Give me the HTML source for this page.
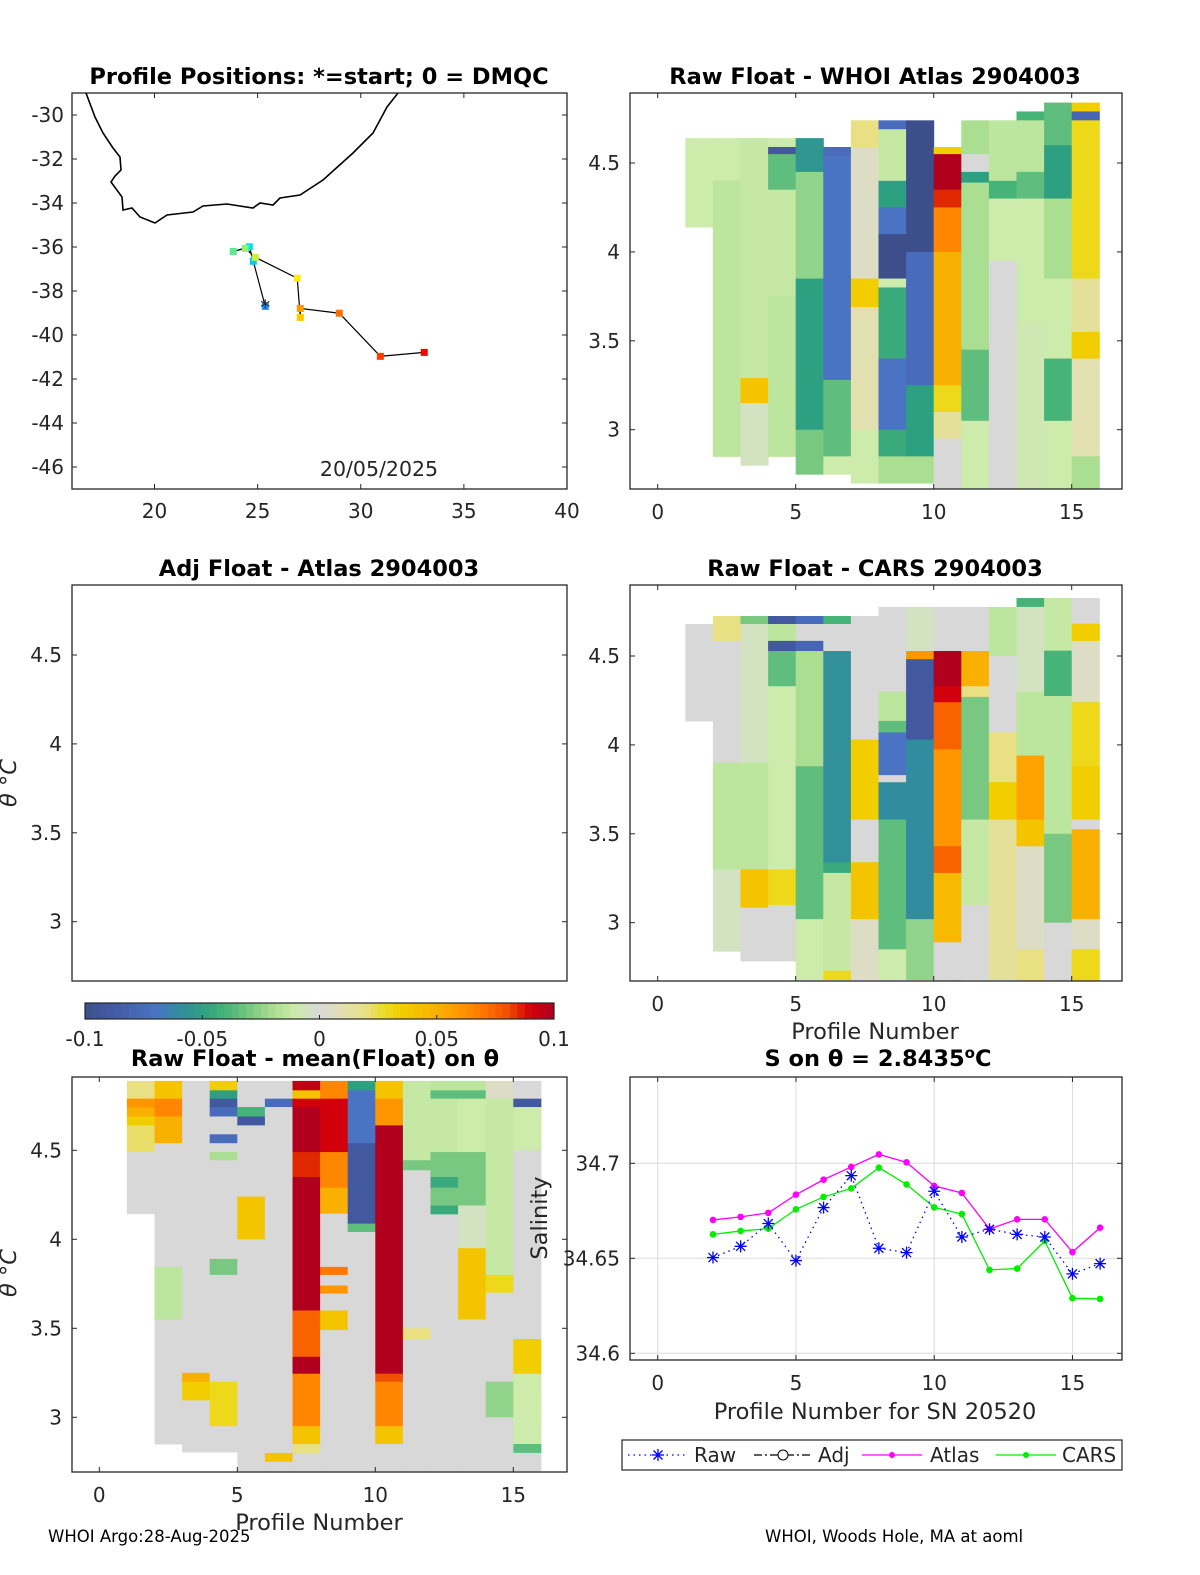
<!DOCTYPE html>
<html><head><meta charset="utf-8">
<style>
html,body{margin:0;padding:0;background:#fff;}
svg{display:block;font-family:"DejaVu Sans","Liberation Sans",sans-serif;}
.tk{font-size:20px;fill:#262626;}
.tt{font-size:22.5px;font-weight:bold;fill:#000;}
.lb{font-size:22.5px;fill:#262626;}
.dl{font-size:20.5px;fill:#262626;}
.ft{font-size:16.5px;fill:#000;}
</style></head>
<body>
<svg id="fig" width="1200" height="1575" viewBox="0 0 1200 1575" xmlns="http://www.w3.org/2000/svg">
<rect width="1200" height="1575" fill="#fff"/>
</svg>
<script>
// ---------- data ----------
const mapLon = [25.37, 24.79, 24.60, 23.82, 24.40, 24.89, 26.92, 27.07, 27.07, 28.96, 30.95, 33.08];
const mapLat = [-38.70, -36.65, -35.99, -36.20, -36.06, -36.47, -37.42, -39.20, -38.79, -39.01, -40.97, -40.79];
const mapColors = ["#1e90ff","#00c8ff","#00e0f0","#60e890","#90f070","#c8f040","#f8f000","#ffc800","#ff9800","#ff7000","#ff3c00","#ff0000"];
const coastX = [86,95,103,113,120,121,115,111,122,123,132,140,155,167,193,203,227,253,260,273,280,300,323,353,373,387,398];
const coastY = [93,117,133,148,157,170,176,182,197,210,208,217,223,215,212,206,204,208,203,205,198,195,180,153,133,107,93];

const profiles = [2,3,4,5,6,7,8,9,10,11,12,13,14,15,16];
const salRaw = [34.6504,34.6563,34.6683,34.6488,34.6767,34.6935,34.6553,34.6530,34.6853,34.6612,34.6653,34.6626,34.6612,34.6418,34.6472];
const salAtlas = [34.6702,34.6718,34.6739,34.6835,34.6914,34.6981,34.7047,34.7005,34.6881,34.6844,34.6654,34.6705,34.6705,34.6533,34.6661];
const salCars = [34.6626,34.6644,34.6656,34.6758,34.6823,34.6868,34.6977,34.6889,34.6768,34.6733,34.6439,34.6446,34.6591,34.6290,34.6286];

const whoiCols = [
 [[4.64,4.14,-0.01]],
 [[4.64,4.40,-0.01],[4.40,2.85,-0.015]],
 [[4.64,3.29,-0.012],[3.29,3.15,0.04],[3.15,2.80,-0.005]],
 [[4.64,4.59,-0.01],[4.59,4.55,-0.09],[4.55,4.35,-0.035],[4.35,3.75,-0.012],[3.75,2.85,-0.015]],
 [[4.64,4.45,-0.055],[4.45,3.85,-0.025],[3.85,3.0,-0.05],[3.0,2.75,-0.03]],
 [[4.59,4.54,-0.075],[4.54,3.28,-0.07],[3.28,2.85,-0.035],[2.85,2.75,-0.01]],
 [[4.74,4.59,0.02],[4.59,3.85,0.005],[3.85,3.69,0.035],[3.69,3.0,0.01],[3.0,2.70,-0.01]],
 [[4.74,4.69,-0.075],[4.69,4.40,-0.012],[4.40,4.25,-0.05],[4.25,4.10,-0.07],[4.10,3.85,-0.1],[3.85,3.80,-0.01],[3.80,3.40,-0.045],[3.40,3.0,-0.07],[3.0,2.85,-0.045],[2.85,2.70,-0.02]],
 [[4.74,4.0,-0.1],[4.0,3.25,-0.075],[3.25,2.85,-0.05],[2.85,2.70,-0.02]],
 [[4.59,4.55,0.035],[4.55,4.35,0.1],[4.35,4.25,0.085],[4.25,4.0,0.065],[4.0,3.25,0.05],[3.25,3.1,0.03],[3.1,2.95,0.015],[2.95,2.66,0.0]],
 [[4.74,4.55,-0.02],[4.55,4.45,0.0],[4.45,4.39,-0.05],[4.39,3.45,-0.02],[3.45,3.05,-0.035],[3.05,2.66,-0.01]],
 [[4.74,4.40,-0.015],[4.40,4.30,-0.04],[4.30,3.95,-0.01],[3.95,2.66,0.0]],
 [[4.79,4.74,-0.04],[4.74,4.45,-0.015],[4.45,4.30,-0.035],[4.30,3.60,-0.01],[3.60,2.66,-0.008]],
 [[4.84,4.60,-0.035],[4.60,4.30,-0.05],[4.30,3.85,-0.02],[3.85,3.40,-0.01],[3.40,3.05,-0.04],[3.05,2.66,-0.01]],
 [[4.84,4.79,0.035],[4.79,4.74,-0.08],[4.74,3.85,0.03],[3.85,3.55,0.015],[3.55,3.40,0.035],[3.40,2.85,0.01],[2.85,2.66,-0.02]]
];
const carsCols = [
 [[4.68,4.135,0.0]],
 [[4.725,4.585,0.02],[4.585,3.9,0.0],[3.9,3.3,-0.015],[3.3,2.84,-0.005]],
 [[4.725,4.68,-0.03],[4.68,3.9,-0.005],[3.9,3.3,-0.015],[3.3,3.085,0.04],[3.085,2.785,0.0]],
 [[4.725,4.68,-0.09],[4.68,4.585,-0.015],[4.585,4.528,-0.09],[4.528,4.33,-0.035],[4.33,3.3,-0.01],[3.3,3.1,0.03],[3.1,2.785,0.0]],
 [[4.725,4.68,-0.075],[4.68,4.585,0.0],[4.585,4.528,-0.08],[4.528,3.88,-0.02],[3.88,3.02,-0.035],[3.02,2.68,-0.01]],
 [[4.725,4.68,-0.04],[4.68,4.528,0.0],[4.528,3.34,-0.058],[3.34,3.28,-0.045],[3.28,2.73,-0.012],[2.73,2.68,0.03]],
 [[4.725,4.03,0.0],[4.03,3.58,0.035],[3.58,3.34,0.0],[3.34,3.02,0.04],[3.02,2.68,0.005]],
 [[4.776,4.3,0.0],[4.3,4.135,-0.015],[4.135,4.07,-0.035],[4.07,3.83,-0.07],[3.83,3.79,0.0],[3.79,3.58,-0.06],[3.58,2.85,-0.035],[2.85,2.68,-0.01]],
 [[4.776,4.528,-0.005],[4.528,4.482,0.06],[4.482,4.03,-0.09],[4.03,3.02,-0.06],[3.02,2.68,-0.025]],
 [[4.776,4.528,0.0],[4.528,4.33,0.1],[4.33,4.24,0.09],[4.24,3.975,0.075],[3.975,3.43,0.06],[3.43,3.28,0.075],[3.28,2.89,0.045],[2.89,2.66,0.0]],
 [[4.776,4.528,0.0],[4.528,4.33,0.05],[4.33,4.27,0.02],[4.27,3.58,-0.03],[3.58,3.1,-0.012],[3.1,2.68,0.0]],
 [[4.776,4.5,-0.015],[4.5,4.07,0.0],[4.07,3.79,0.02],[3.79,3.58,0.035],[3.58,2.68,0.015]],
 [[4.826,4.776,-0.04],[4.776,4.3,-0.005],[4.3,3.94,-0.015],[3.94,3.58,0.055],[3.58,3.43,0.04],[3.43,2.85,0.005],[2.85,2.66,0.02]],
 [[4.826,4.53,-0.012],[4.53,4.275,-0.04],[4.275,3.5,-0.015],[3.5,3.0,-0.03],[3.0,2.66,0.0]],
 [[4.826,4.682,0.0],[4.682,4.585,0.035],[4.585,4.24,0.005],[4.24,3.88,0.03],[3.88,3.58,0.035],[3.58,3.525,0.0],[3.525,3.02,0.05],[3.02,2.85,0.005],[2.85,2.66,0.03]]
];
const meanCols = [
 [[4.89,4.79,0.02],[4.79,4.74,0.06],[4.74,4.69,0.05],[4.69,4.64,0.035],[4.64,4.49,0.022],[4.49,4.144,0.0]],
 [[4.89,4.79,0.04],[4.79,4.69,0.065],[4.69,4.54,0.05],[4.54,3.845,0.0],[3.845,3.55,-0.015],[3.55,2.85,0.0]],
 [[4.89,3.25,0.0],[3.25,3.2,0.05],[3.2,3.095,0.035],[3.095,2.805,0.0]],
 [[4.89,4.837,0.035],[4.837,4.79,-0.05],[4.79,4.743,-0.09],[4.743,4.69,-0.075],[4.69,4.59,0.0],[4.59,4.54,-0.075],[4.54,4.49,0.0],[4.49,4.444,-0.02],[4.444,3.89,0.0],[3.89,3.8,-0.03],[3.8,3.2,0.0],[3.2,2.95,0.03],[2.95,2.805,0.0]],
 [[4.89,4.743,0.0],[4.743,4.69,-0.04],[4.69,4.64,-0.09],[4.64,4.24,0.0],[4.24,4.0,0.04],[4.0,2.70,0.0]],
 [[4.89,4.79,0.0],[4.79,4.743,-0.075],[4.743,2.80,0.0],[2.80,2.75,0.04],[2.75,2.70,0.0]],
 [[4.89,4.837,0.095],[4.837,4.79,0.04],[4.79,4.743,0.09],[4.743,4.49,0.1],[4.49,4.35,0.085],[4.35,3.6,0.1],[3.6,3.34,0.075],[3.34,3.245,0.1],[3.245,2.95,0.065],[2.95,2.85,0.04],[2.85,2.80,0.02],[2.80,2.70,0.0]],
 [[4.89,4.79,0.065],[4.79,4.49,0.09],[4.49,4.29,0.065],[4.29,4.144,0.05],[4.144,3.845,0.0],[3.845,3.8,0.07],[3.8,3.74,0.0],[3.74,3.695,0.06],[3.695,3.6,0.0],[3.6,3.49,0.04],[3.49,2.70,0.0]],
 [[4.89,4.837,-0.05],[4.837,4.54,-0.07],[4.54,4.088,-0.09],[4.088,4.041,-0.035],[4.041,2.70,0.0]],
 [[4.89,4.79,0.04],[4.79,4.64,0.06],[4.64,3.245,0.1],[3.245,3.2,0.08],[3.2,2.95,0.065],[2.95,2.85,0.04],[2.85,2.70,0.0]],
 [[4.89,4.444,-0.012],[4.444,4.388,-0.03],[4.388,3.5,0.0],[3.5,3.44,0.02],[3.44,2.70,0.0]],
 [[4.89,4.837,-0.015],[4.837,4.79,-0.035],[4.79,4.49,-0.012],[4.49,4.35,-0.03],[4.35,4.29,-0.045],[4.29,4.19,-0.03],[4.19,4.14,-0.045],[4.14,2.70,0.0]],
 [[4.89,4.837,-0.015],[4.837,4.79,-0.035],[4.79,4.49,-0.01],[4.49,4.19,-0.03],[4.19,3.95,-0.005],[3.95,3.55,0.04],[3.55,2.70,0.0]],
 [[4.89,4.79,0.005],[4.79,3.8,-0.012],[3.8,3.7,0.03],[3.7,3.2,0.0],[3.2,3.0,-0.025],[3.0,2.70,0.0]],
 [[4.89,4.79,0.0],[4.79,4.743,-0.09],[4.743,4.5,-0.01],[4.5,3.44,0.0],[3.44,3.245,0.035],[3.245,2.85,-0.01],[2.85,2.80,-0.035],[2.80,2.70,0.0]]
];
const thetaTicks = [3, 3.5, 4, 4.5];
const profTicks = [0, 5, 10, 15];
const lonTicks = [20, 25, 30, 35, 40];
const latTicks = [-30,-32,-34,-36,-38,-40,-42,-44,-46];
const salTicks = [34.6, 34.65, 34.7];
const cbTicks = [-0.1, -0.05, 0, 0.05, 0.1];

// ---------- helpers ----------
const NS = "http://www.w3.org/2000/svg";
const svg = document.getElementById('fig');
function mk(tag, attrs, parent) {
  const e = document.createElementNS(NS, tag);
  for (const k in attrs) e.setAttribute(k, attrs[k]);
  (parent || svg).appendChild(e);
  return e;
}
const stops = [
 [-0.1,[61,79,138]],[-0.085,[68,94,170]],[-0.07,[74,115,196]],[-0.06,[50,140,160]],[-0.05,[46,160,130]],
 [-0.04,[70,180,120]],[-0.03,[120,200,130]],[-0.02,[170,222,145]],[-0.01,[205,235,170]],[0,[216,216,216]],
 [0.01,[226,224,176]],[0.02,[232,224,130]],[0.027,[234,222,40]],[0.035,[242,206,0]],[0.05,[250,176,0]],
 [0.06,[255,150,0]],[0.07,[255,118,0]],[0.08,[240,80,0]],[0.085,[224,40,0]],[0.09,[210,0,10]],[0.1,[176,0,30]]
];
function cmap(v) {
  v = Math.max(-0.1, Math.min(0.1, v));
  for (let i = 0; i < stops.length - 1; i++) {
    const a = stops[i], b = stops[i+1];
    if (v >= a[0] && v <= b[0]) {
      const t = (v - a[0]) / (b[0] - a[0]);
      const c = a[1].map((x, j) => Math.round(x + (b[1][j] - x) * t));
      return `rgb(${c[0]},${c[1]},${c[2]})`;
    }
  }
  return '#d8d8d8';
}
function text(x, y, s, cls, anchor, parent) {
  const t = mk('text', {x: x, y: y, class: cls, 'text-anchor': anchor || 'middle'}, parent);
  t.textContent = s;
  return t;
}
function axesFrame(name, L, T, R, B) {
  const g = mk('g', {});
  
  
  mk('rect', {x: L, y: T, width: R - L, height: B - T, fill: 'none', stroke: '#262626', 'stroke-width': 1.3}, g);
  return g;
}
let clipId = 0;
function clipFor(L, T, R, B) {
  const id = 'c' + (clipId++);
  const cp = mk('clipPath', {id: id});
  mk('rect', {x: L, y: T, width: R - L, height: B - T}, cp);
  return 'url(#' + id + ')';
}
function xTicks(g, xs, labels, T, B, yl) {
  xs.forEach((x, i) => {
    mk('line', {x1: x, y1: B, x2: x, y2: B - 5, stroke: '#262626'}, g);
    mk('line', {x1: x, y1: T, x2: x, y2: T + 5, stroke: '#262626'}, g);
    const t = text(x, yl, labels[i], 'tk', 'middle', g);
    
    
  });
}
function yTicks(g, ys, labels, L, R, xl) {
  ys.forEach((y, i) => {
    mk('line', {x1: L, y1: y, x2: L + 5, y2: y, stroke: '#262626'}, g);
    mk('line', {x1: R, y1: y, x2: R - 5, y2: y, stroke: '#262626'}, g);
    const t = text(xl, y + 7, labels[i], 'tk', 'end', g);
    
    
  });
}
function heatmap(name, cols, xf, yf, L, T, R, B) {
  const g = mk('g', {'clip-path': clipFor(L, T, R, B)});
  
  
  cols.forEach((segs, ci) => {
    const p = ci + 1;
    const x0 = xf(p), x1 = xf(p + 1);
    segs.forEach(s => {
      const y0 = yf(s[0]), y1 = yf(s[1]);
      const r = mk('rect', {x: x0, y: y0, width: x1 - x0 + 0.5, height: y1 - y0 + 0.5, fill: cmap(s[2])}, g);
      
      
    });
  });
}

// ---------- Panel 1: map ----------
(function(){
  const L=72,T=93,R=567,B=489;
  const xf = lon => L + (lon - 16) * (R - L) / 24;
  const yf = lat => T + (-29 - lat) * (B - T) / 18;
  const g = axesFrame('map-axes', L, T, R, B);
  const cg = mk('g', {'clip-path': clipFor(L, T, R, B)}, g);
  const coast = mk('polyline', {points: coastX.map((x,i)=>x+','+coastY[i]).join(' '), fill:'none', stroke:'#000', 'stroke-width':1.6}, cg);
  
  
  const tr = mk('polyline', {points: mapLon.map((lo,i)=>xf(lo)+','+yf(mapLat[i])).join(' '), fill:'none', stroke:'#000', 'stroke-width':1.2}, cg);
  
  
  mapLon.forEach((lo,i)=>{
    const r = mk('rect', {x: xf(lo)-3.5, y: yf(mapLat[i])-3.5, width:7, height:7, fill: mapColors[i]}, cg);
    
    
  });
  text(xf(mapLon[0]), yf(mapLat[0])+8, '*', 'tk', 'middle', cg).setAttribute('fill','#0000ff');
  xTicks(g, lonTicks.map(xf), lonTicks.map(String), T, B, 518);
  yTicks(g, latTicks.map(yf), latTicks.map(String), L, R, 64);
  const t = text(319, 84, 'Profile Positions: *=start; 0 = DMQC', 'tt');
   
  const d = text(379, 476, '20/05/2025', 'dl');
   
})();

// ---------- right heatmaps ----------
function rightPanel(name, title, cols, T, B, tickY45, xlabel) {
  const L=630,R=1122;
  const xf = p => 657.7 + 27.6 * p;
  const yf = th => tickY45 - (th - 4.5) * 177.8;
  heatmap(name + '-heatmap', cols, xf, yf, L, T, R, B);
  const g = axesFrame(name + '-axes', L, T, R, B);
  xTicks(g, profTicks.map(xf), profTicks.map(String), T, B, B + 30);
  yTicks(g, thetaTicks.map(yf), thetaTicks.map(String), L, R, 620);
  const t = text(875, T - 9, title, 'tt');
   
  if (xlabel) { const x = text(875, B + 58, xlabel, 'lb');   }
}
rightPanel('whoi-atlas', 'Raw Float - WHOI Atlas  2904003', whoiCols, 93, 489, 163, null);
rightPanel('cars', 'Raw Float - CARS  2904003', carsCols, 585, 981, 656, 'Profile Number');

// ---------- Panel 3: Adj (empty) ----------
(function(){
  const L=72,T=585,R=567,B=981;
  const yf = th => 655 - (th - 4.5) * 177.8;
  const g = axesFrame('adj-atlas-axes', L, T, R, B);
  yTicks(g, thetaTicks.map(yf), thetaTicks.map(String), L, R, 62);
  const t = text(319, 576, 'Adj Float - Atlas  2904003', 'tt');
   
  const yl = text(0, 0, 'θ °C', 'lb');
  yl.setAttribute('transform','translate(16,783) rotate(-90)');
  yl.setAttribute('font-style','italic');
   
})();

// ---------- colorbar ----------
(function(){
  const L=85,R=554,T=1003,B=1019,n=64;
  const g = mk('g', {});
   
  for (let i=0;i<n;i++){
    const v = -0.1 + (i+0.5)*0.2/n;
    mk('rect',{x: L + i*(R-L)/n, y:T, width:(R-L)/n+0.5, height:B-T, fill:cmap(v)}, g);
  }
  mk('rect',{x:L,y:T,width:R-L,height:B-T,fill:'none',stroke:'#262626','stroke-width':1.2}, g);
  cbTicks.forEach(v=>{
    const x = L + (v+0.1)/0.2*(R-L);
    mk('line',{x1:x,y1:B,x2:x,y2:B-4,stroke:'#262626'}, g);
    const t = text(x, 1046, String(v), 'tk', 'middle', g);
     
  });
})();

// ---------- Panel 5: mean ----------
(function(){
  const L=72,T=1077,R=567,B=1472;
  const xf = p => 99.3 + 27.6 * p;
  const yf = th => 1150.3 - (th - 4.5) * 178;
  heatmap('mean-heatmap', meanCols, xf, yf, L, T, R, B);
  const g = axesFrame('mean-axes', L, T, R, B);
  xTicks(g, profTicks.map(xf), profTicks.map(String), T, B, 1502);
  yTicks(g, thetaTicks.map(yf), thetaTicks.map(String), L, R, 62);
  const t = text(315, 1066, 'Raw Float - mean(Float) on θ', 'tt');
   
  const xl = text(319, 1530, 'Profile Number', 'lb');
   
  const yl = text(0, 0, 'θ °C', 'lb');
  yl.setAttribute('transform','translate(16,1273) rotate(-90)');
  yl.setAttribute('font-style','italic');
   
})();

// ---------- Panel 6: salinity lines ----------
(function(){
  const L=630,T=1077,R=1122,B=1360;
  const xf = p => 657.7 + 27.65 * p;
  const yf = s => 1163.3 - (s - 34.7) * 1900;
  const g = axesFrame('salinity-axes', L, T, R, B);
  profTicks.forEach(p=>mk('line',{x1:xf(p),y1:T,x2:xf(p),y2:B,stroke:'#dcdcdc'}, g));
  salTicks.forEach(s=>mk('line',{x1:L,y1:yf(s),x2:R,y2:yf(s),stroke:'#dcdcdc'}, g));
  xTicks(g, profTicks.map(xf), profTicks.map(String), T, B, 1390);
  yTicks(g, salTicks.map(yf), salTicks.map(String), L, R, 620);
  function series(name, vals, color, dash, marker) {
    const sg = mk('g', {}, g);
    
    
    const pl = mk('polyline',{points: profiles.map((p,i)=>xf(p)+','+yf(vals[i])).join(' '), fill:'none', stroke:color, 'stroke-width':1.3}, sg);
    if (dash) pl.setAttribute('stroke-dasharray', dash);
    profiles.forEach((p,i)=>{
      const x=xf(p), y=yf(vals[i]);
      if (marker==='dot') {
        const c = mk('circle',{cx:x,cy:y,r:3.3,fill:color}, sg);
        
        
      } else {
        const st = mk('path',{d:`M${x-6},${y}H${x+6}M${x},${y-6}V${y+6}M${x-4.5},${y-4.5}L${x+4.5},${y+4.5}M${x-4.5},${y+4.5}L${x+4.5},${y-4.5}`, stroke:color,'stroke-width':1.3,fill:'none'}, sg);
        
        
      }
    });
  }
  series('atlas-series', salAtlas, '#ff00ff', null, 'dot');
  series('cars-series', salCars, '#00ee00', null, 'dot');
  series('raw-series', salRaw, '#0000ff', '1.5,4', 'star');
  const t = text(878, 1066, 'S on θ = 2.8435', 'tt');
  const sup = mk('tspan',{dy:-8,style:'font-size:15px'}, t); sup.textContent='o';
  const c = mk('tspan',{dy:8}, t); c.textContent='C';
   
  const xl = text(875, 1419, 'Profile Number for SN 20520', 'lb');
   
  const yl = text(0, 0, 'Salinity', 'lb');
  yl.setAttribute('transform','translate(547,1218) rotate(-90)');
   
})();

// ---------- legend ----------
(function(){
  const g = mk('g', {});
   
  mk('rect',{x:622,y:1440,width:500,height:30,fill:'#fff',stroke:'#262626','stroke-width':1.2}, g);
  const y=1455;
  mk('line',{x1:628,y1:y,x2:688,y2:y,stroke:'#0000ff','stroke-dasharray':'1.5,4','stroke-width':1.3}, g);
  mk('path',{d:`M652,${y}H664M658,${y-6}V${y+6}M653.5,${y-4.5}L662.5,${y+4.5}M653.5,${y+4.5}L662.5,${y-4.5}`,stroke:'#0000ff','stroke-width':1.3}, g);
  text(694,y+7,'Raw','tk','start',g);
  mk('line',{x1:754,y1:y,x2:812,y2:y,stroke:'#000','stroke-dasharray':'8,3,2,3','stroke-width':1.2}, g);
  mk('circle',{cx:783,cy:y,r:5,fill:'#fff',stroke:'#000'}, g);
  text(818,y+7,'Adj','tk','start',g);
  mk('line',{x1:862,y1:y,x2:922,y2:y,stroke:'#ff00ff','stroke-width':1.3}, g);
  mk('circle',{cx:892,cy:y,r:3,fill:'#ff00ff'}, g);
  text(930,y+7,'Atlas','tk','start',g);
  mk('line',{x1:996,y1:y,x2:1056,y2:y,stroke:'#00ee00','stroke-width':1.3}, g);
  mk('circle',{cx:1026,cy:y,r:3,fill:'#00ee00'}, g);
  text(1062,y+7,'CARS','tk','start',g);
})();

// ---------- footer ----------
const f1 = text(48, 1542, 'WHOI Argo:28-Aug-2025', 'ft', 'start');
 
const f2 = text(765, 1542, 'WHOI, Woods Hole, MA at aoml', 'ft', 'start');
 
</script>
</body></html>
